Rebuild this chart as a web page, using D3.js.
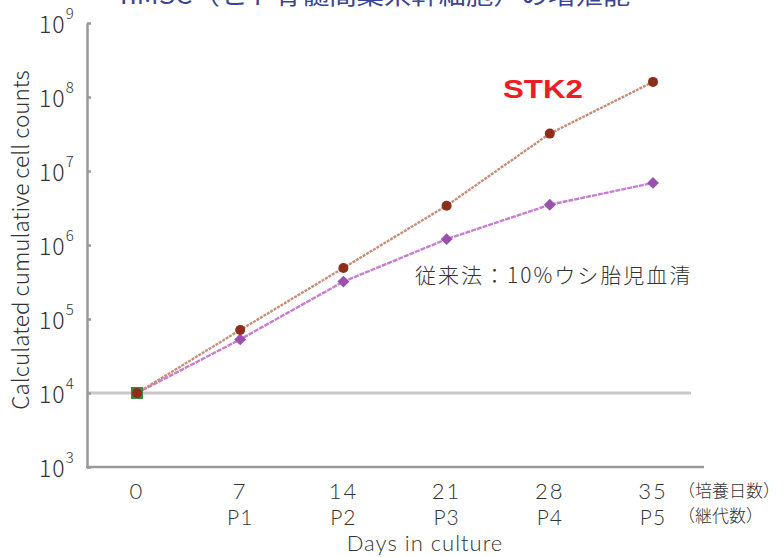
<!DOCTYPE html>
<html>
<head>
<meta charset="utf-8">
<script src="https://cdn.jsdelivr.net/npm/d3@7"></script>
<style>
  body { margin: 0; background: #fff; }
  text { font-family: "Noto Sans CJK JP", "Noto Sans", sans-serif; fill: #333; font-weight: 300; }
  .day, .pass, .xtitle { font-family: Lato, "Liberation Sans", sans-serif; font-weight: 300; fill: #333; }
</style>
</head>
<body>
<div id="chart"></div>
<script>
// data
const days = [0, 7, 14, 21, 28, 35];
const passages = ["", "P1", "P2", "P3", "P4", "P5"];
const stk2 = [1e4, 7.1e4, 4.9e5, 3.4e6, 3.2e7, 1.6e8];
const fbs = [1e4, 5.3e4, 3.2e5, 1.2e6, 3.5e6, 6.9e6];
const yTicks = [1e3, 1e4, 1e5, 1e6, 1e7, 1e8, 1e9];

const width = 784, height = 557;

const svg = d3.select("#chart").append("svg")
  .attr("width", width)
  .attr("height", height);

// scales
const x = d3.scaleLinear().domain([0, 35]).range([137, 653]);
const y = d3.scaleLog().domain([1e3, 1e9]).range([467, 23]);

// title, cut off at the top like the source image
svg.append("text")
  .attr("x", 120)
  .attr("y", 4)
  .attr("textLength", 510)
  .attr("lengthAdjust", "spacingAndGlyphs")
  .style("font-size", "24px")
  .style("font-weight", 400)
  .style("fill", "#3b4595")
  .text("hMSC（ヒト骨髄間葉系幹細胞）の増殖能");

// 10^4 reference line
svg.append("line")
  .attr("x1", 87).attr("x2", 691)
  .attr("y1", y(1e4)).attr("y2", y(1e4))
  .attr("stroke", "#c8c8c8")
  .attr("stroke-width", 3);

// y axis
const yAxis = d3.axisLeft(y)
  .tickValues(yTicks)
  .tickSizeInner(-4)
  .tickSizeOuter(0)
  .tickFormat("");

const gy = svg.append("g")
  .attr("transform", "translate(87,0)")
  .call(yAxis);
gy.selectAll("path, line").attr("stroke", "#999").attr("stroke-width", 2.5);

// y tick labels with superscript exponents
yTicks.forEach(v => {
  const t = svg.append("text")
    .attr("x", 39)
    .attr("y", y(v) + 10)
    .style("font-size", "23px")
    .style("letter-spacing", "1px");
  t.append("tspan").text("10");
  t.append("tspan")
    .attr("dx", 0)
    .attr("dy", -14)
    .style("font-size", "15px")
    .text(Math.round(Math.log10(v)));
});

// x axis line
svg.append("line")
  .attr("x1", 86).attr("x2", 704)
  .attr("y1", 467).attr("y2", 467)
  .attr("stroke", "#999")
  .attr("stroke-width", 2.5);

// x tick labels
const xl = svg.append("g");
xl.selectAll(".day").data(days).enter().append("text")
  .attr("class", "day")
  .attr("x", d => x(d))
  .attr("y", 499)
  .attr("text-anchor", "middle")
  .style("font-size", "22px")
  .style("letter-spacing", "2px")
  .text(d => d);
xl.selectAll(".pass").data(days).enter().append("text")
  .attr("class", "pass")
  .attr("x", d => x(d))
  .attr("y", 525)
  .attr("text-anchor", "middle")
  .style("font-size", "21px")
  .style("letter-spacing", "1px")
  .text((d, i) => passages[i]);

svg.append("text")
  .attr("x", 678).attr("y", 497)
  .style("font-size", "17px")
  .text("（培養日数）");
svg.append("text")
  .attr("x", 678).attr("y", 522)
  .style("font-size", "17px")
  .text("（継代数）");

// axis titles
svg.append("text")
  .attr("class", "xtitle")
  .attr("x", 425).attr("y", 551)
  .attr("text-anchor", "middle")
  .style("font-size", "22px")
  .style("letter-spacing", "1px")
  .text("Days in culture");

svg.append("text")
  .attr("transform", "translate(29,240) rotate(-90)")
  .attr("text-anchor", "middle")
  .style("font-size", "22.5px")
  .text("Calculated cumulative cell counts");

// lines
const line = d3.line()
  .x((d, i) => x(days[i]))
  .y(d => y(d));

svg.append("path")
  .datum(fbs)
  .attr("d", line)
  .attr("fill", "none")
  .attr("stroke", "#c77dd0")
  .attr("stroke-width", 2.4)
  .attr("stroke-dasharray", "5,1");

svg.append("path")
  .datum(stk2)
  .attr("d", line)
  .attr("fill", "none")
  .attr("stroke", "#c78f7a")
  .attr("stroke-width", 2.4)
  .attr("stroke-dasharray", "3,1");

// markers
const diamond = d3.symbol().type(d3.symbolDiamond2).size(90);
svg.selectAll(".fbs-pt").data(fbs).enter().append("path")
  .attr("class", "fbs-pt")
  .attr("transform", (d, i) => `translate(${x(days[i])},${y(d)})`)
  .attr("d", diamond)
  .attr("fill", "#9b4fae");

// green square under the first point
svg.append("rect")
  .attr("x", x(0) - 6).attr("y", y(1e4) - 6)
  .attr("width", 12).attr("height", 12)
  .attr("fill", "#3d8a3d");

svg.selectAll(".stk-pt").data(stk2).enter().append("circle")
  .attr("class", "stk-pt")
  .attr("cx", (d, i) => x(days[i]))
  .attr("cy", d => y(d))
  .attr("r", 5)
  .attr("fill", "#8c2e1c");

// labels
svg.append("text")
  .attr("x", 503).attr("y", 98)
  .attr("textLength", 80)
  .attr("lengthAdjust", "spacingAndGlyphs")
  .style("font-family", "'Liberation Sans', Arial, sans-serif")
  .style("font-weight", "bold")
  .style("font-size", "25px")
  .style("fill", "#ee1c25")
  .text("STK2");

svg.append("text")
  .attr("x", 415).attr("y", 283)
  .style("font-size", "21px")
  .style("letter-spacing", "2px")
  .text("従来法：10%ウシ胎児血清");
</script>
</body>
</html>
